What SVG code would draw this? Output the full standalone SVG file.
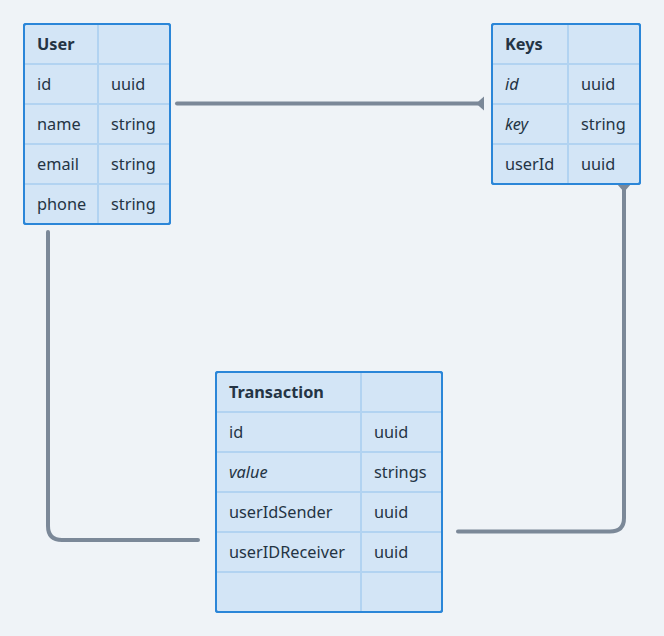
<svg xmlns="http://www.w3.org/2000/svg" width="664" height="636" viewBox="0 0 664 636">
<style>
.bg{fill:#eff3f7}
.tb{fill:#d3e5f6;stroke:#2b86d8;stroke-width:2}
.ln{stroke:#b2d3f1;stroke-width:2}
text{font-family:"Noto Sans","Open Sans","DejaVu Sans",sans-serif;font-size:16.3px;fill:#243444}
.h{font-weight:bold}
.i{font-style:italic}
.c{fill:none;stroke:#7b8898;stroke-width:4;stroke-linecap:round}
.ah{fill:#7b8898}
</style>
<rect class="bg" width="664" height="636"/>
<g id="connectors">
<path class="c" d="M177 103.5 H478"/>
<polygon class="ah" points="476,103.5 484,96.5 484,110.5"/>
<path class="c" d="M48 232 V526 Q48 540 62 540 H198"/>
<path class="c" d="M624 190 V518 Q624 531.5 610 531.5 H458"/>
<polygon class="ah" points="617,184 631,184 624,192"/>
</g>
<g id="User">
<rect class="tb" x="24" y="24" width="146" height="200" rx="2"/>
<line class="ln" x1="98" y1="25" x2="98" y2="223"/>
<line class="ln" x1="25" y1="64" x2="169" y2="64"/>
<line class="ln" x1="25" y1="104" x2="169" y2="104"/>
<line class="ln" x1="25" y1="144" x2="169" y2="144"/>
<line class="ln" x1="25" y1="184" x2="169" y2="184"/>
<rect x="24" y="24" width="146" height="200" rx="2" fill="none" stroke="#2b86d8" stroke-width="2"/>
<text class="h" x="37" y="50">User</text>
<text x="37" y="90">id</text><text x="111" y="90">uuid</text>
<text x="37" y="130">name</text><text x="111" y="130">string</text>
<text x="37" y="170">email</text><text x="111" y="170">string</text>
<text x="37" y="210">phone</text><text x="111" y="210">string</text>
</g>
<g id="Keys">
<rect class="tb" x="492" y="24" width="148" height="160" rx="2"/>
<line class="ln" x1="568" y1="25" x2="568" y2="183"/>
<line class="ln" x1="493" y1="64" x2="639" y2="64"/>
<line class="ln" x1="493" y1="104" x2="639" y2="104"/>
<line class="ln" x1="493" y1="144" x2="639" y2="144"/>
<rect x="492" y="24" width="148" height="160" rx="2" fill="none" stroke="#2b86d8" stroke-width="2"/>
<text class="h" x="505" y="50">Keys</text>
<text class="i" x="505" y="90">id</text><text x="581" y="90">uuid</text>
<text class="i" x="505" y="130">key</text><text x="581" y="130">string</text>
<text x="505" y="170">userId</text><text x="581" y="170">uuid</text>
</g>
<g id="Transaction">
<rect class="tb" x="216" y="372" width="226" height="240" rx="2"/>
<line class="ln" x1="361" y1="373" x2="361" y2="611"/>
<line class="ln" x1="217" y1="412" x2="441" y2="412"/>
<line class="ln" x1="217" y1="452" x2="441" y2="452"/>
<line class="ln" x1="217" y1="492" x2="441" y2="492"/>
<line class="ln" x1="217" y1="532" x2="441" y2="532"/>
<line class="ln" x1="217" y1="572" x2="441" y2="572"/>
<rect x="216" y="372" width="226" height="240" rx="2" fill="none" stroke="#2b86d8" stroke-width="2"/>
<text class="h" x="229" y="398">Transaction</text>
<text x="229" y="438">id</text><text x="374" y="438">uuid</text>
<text class="i" x="229" y="478">value</text><text x="374" y="478">strings</text>
<text x="229" y="518">userIdSender</text><text x="374" y="518">uuid</text>
<text x="229" y="558">userIDReceiver</text><text x="374" y="558">uuid</text>
</g>
</svg>
